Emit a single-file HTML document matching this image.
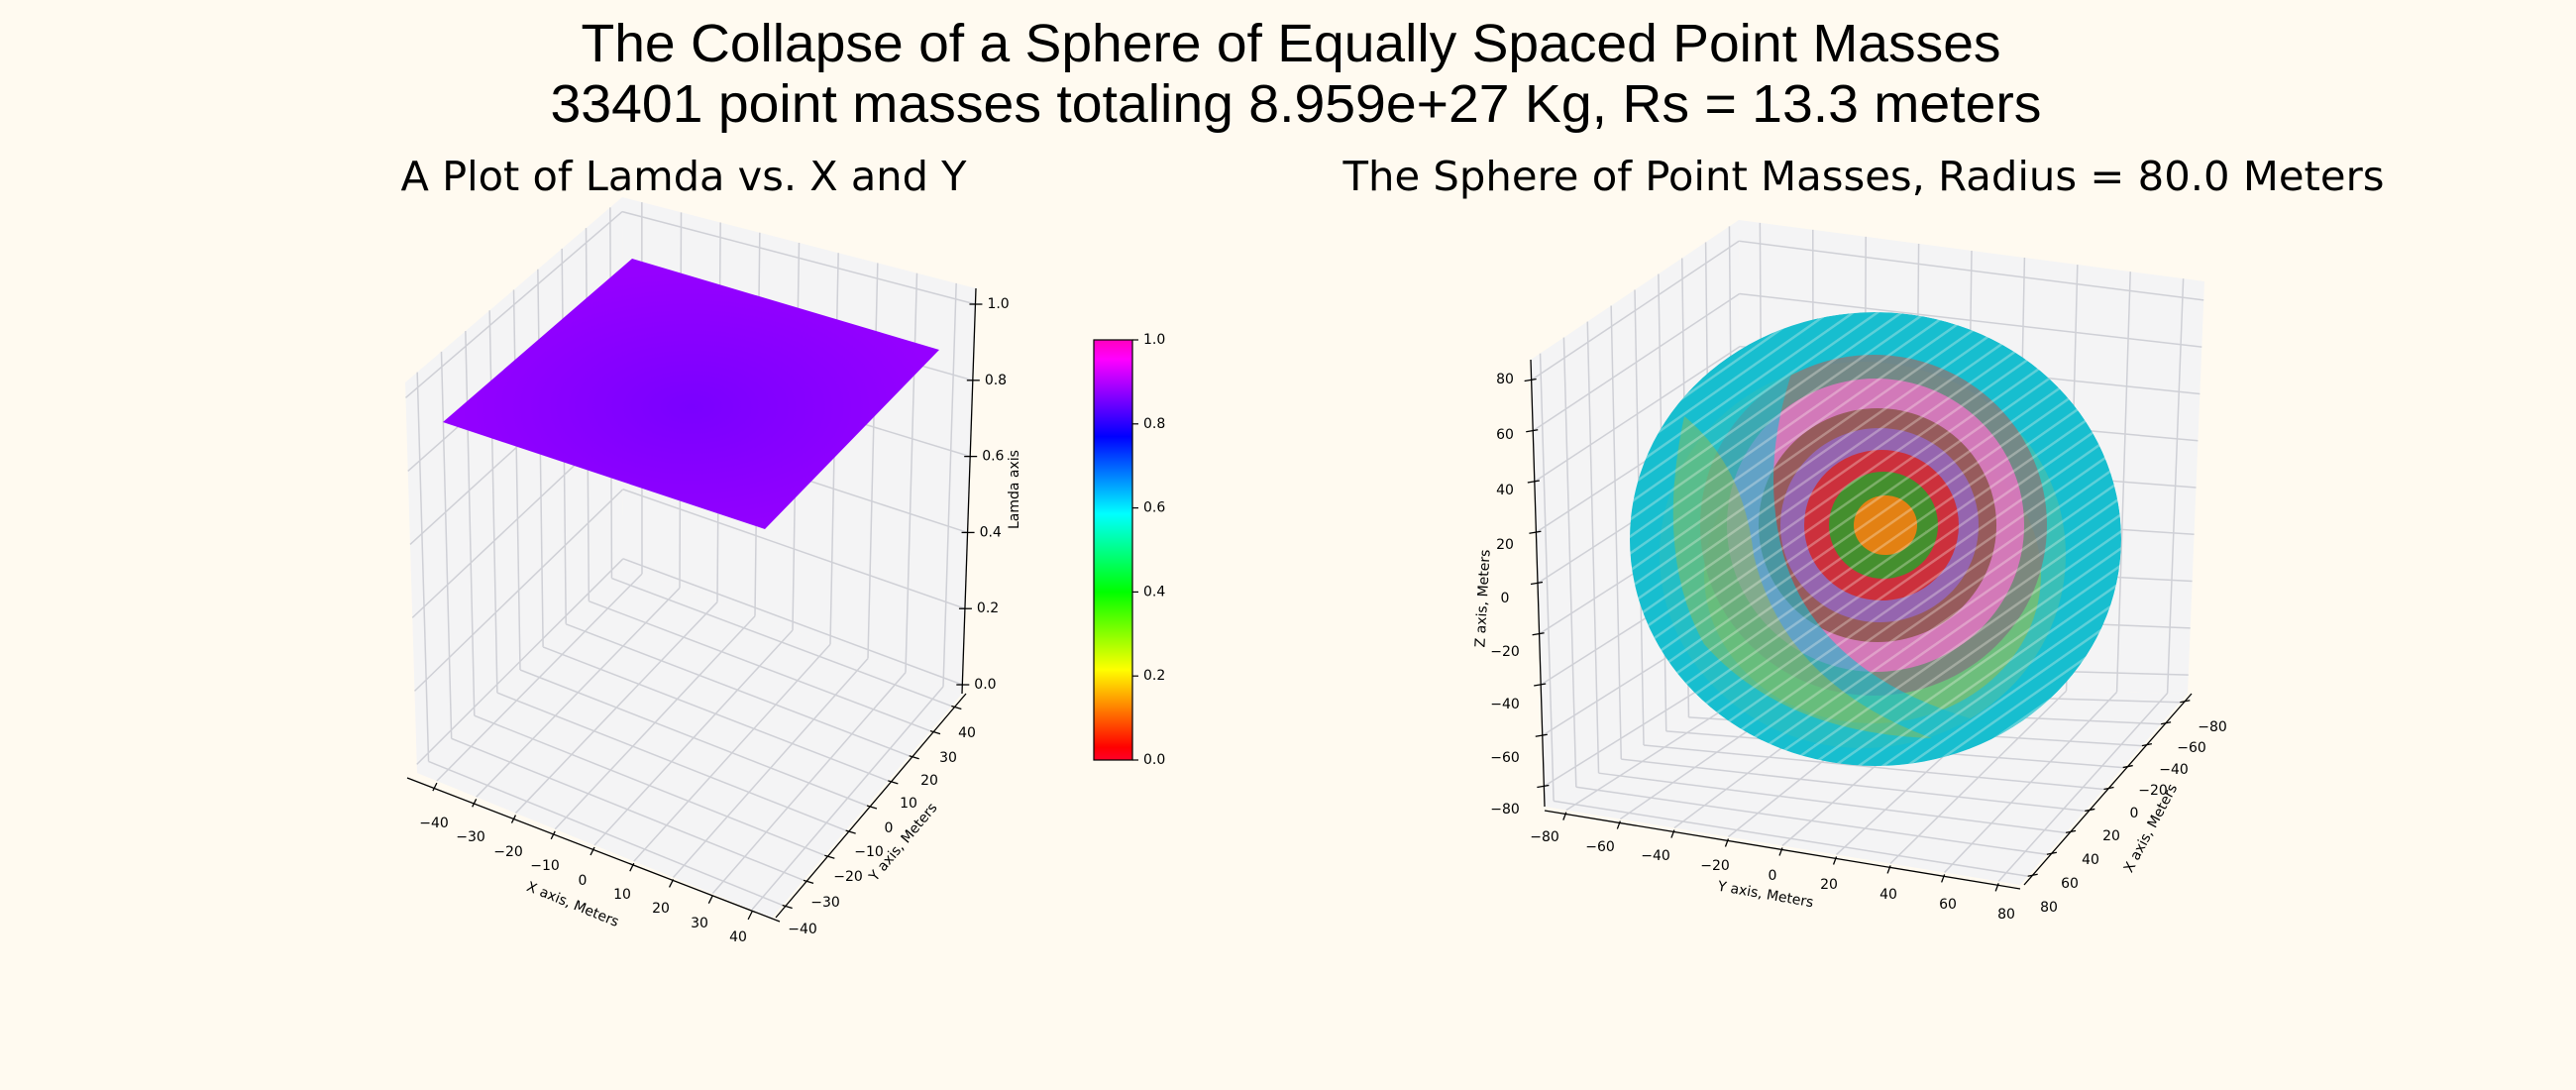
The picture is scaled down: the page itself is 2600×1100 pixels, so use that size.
<!DOCTYPE html>
<html><head><meta charset="utf-8"><style>
html,body{margin:0;padding:0;background:#fffaf0;}
svg{display:block;}
.t{font-family:"DejaVu Sans",sans-serif;fill:#000;}
</style></head><body>
<svg id="s" width="2600" height="1100" xmlns="http://www.w3.org/2000/svg">
<defs>
<linearGradient id="cb" x1="0" y1="1" x2="0" y2="0">
<stop offset="0" stop-color="#ff0029"/><stop offset="0.03" stop-color="#ff0000"/>
<stop offset="0.215" stop-color="#ffff00"/><stop offset="0.4" stop-color="#00ff00"/>
<stop offset="0.586" stop-color="#00ffff"/><stop offset="0.77" stop-color="#0000ff"/>
<stop offset="0.954" stop-color="#ff00ff"/><stop offset="1" stop-color="#ff00bf"/>
</linearGradient>
<radialGradient id="surf" cx="0.5" cy="0.55" r="0.5">
<stop offset="0" stop-color="#7a00ff"/><stop offset="1" stop-color="#9500ff"/>
</radialGradient>
<pattern id="stripes" width="14" height="14" patternUnits="userSpaceOnUse" patternTransform="rotate(-35)">
<rect width="14" height="2.5" fill="#fffaf0"/>
</pattern>
<clipPath id="sph"><ellipse cx="1893" cy="544" rx="248" ry="229"/></clipPath>
</defs>
<text x="1303" y="62" text-anchor="middle" font-family="Liberation Sans, sans-serif" font-size="54" textLength="1433" lengthAdjust="spacingAndGlyphs">The Collapse of a Sphere of Equally Spaced Point Masses</text>
<text x="1308" y="123" text-anchor="middle" font-family="Liberation Sans, sans-serif" font-size="54" textLength="1505" lengthAdjust="spacingAndGlyphs">33401 point masses totaling 8.959e+27 Kg, Rs = 13.3 meters</text>
<text class="t" x="690" y="192" text-anchor="middle" font-size="41" textLength="571" lengthAdjust="spacingAndGlyphs">A Plot of Lamda vs. X and Y</text>
<text class="t" x="1881" y="192" text-anchor="middle" font-size="41" textLength="1051" lengthAdjust="spacingAndGlyphs">The Sphere of Point Masses, Radius = 80.0 Meters</text>
<g id="g1"></g>
<g id="g2"></g>
</svg>
<script>
const NS="http://www.w3.org/2000/svg";
function el(p,n,a,txt){const e=document.createElementNS(NS,n);for(const k in a)e.setAttribute(k,a[k]);if(txt!==undefined)e.textContent=txt;p.appendChild(e);return e;}
function lp(a,b,t){return [a[0]+(b[0]-a[0])*t,a[1]+(b[1]-a[1])*t];}
function bil(p00,p10,p11,p01,u,v){return lp(lp(p00,p10,u),lp(p01,p11,u),v);}
function pane(g,q,us,vs){
 el(g,"polygon",{points:q.map(p=>p.join(",")).join(" "),fill:"#f4f4f5",stroke:"none"});
 for(const u of us){const a=bil(q[0],q[1],q[2],q[3],u,0),b=bil(q[0],q[1],q[2],q[3],u,1);el(g,"line",{x1:a[0],y1:a[1],x2:b[0],y2:b[1],stroke:"#cfd0d6","stroke-width":1.5});}
 for(const v of vs){const a=bil(q[0],q[1],q[2],q[3],0,v),b=bil(q[0],q[1],q[2],q[3],1,v);el(g,"line",{x1:a[0],y1:a[1],x2:b[0],y2:b[1],stroke:"#cfd0d6","stroke-width":1.5});}
}
function txt(g,x,y,s,fs,rot){const a={class:"t",x:x,y:y,"font-size":fs,"text-anchor":"middle","dominant-baseline":"central"};if(rot)a.transform=`rotate(${rot} ${x} ${y})`;el(g,"text",a,s);}
// ---- Left plot
(function(){
const g=document.getElementById("g1");
const Bt=[628,199],Bb=[629,572],Lt=[409,386],Lb=[421,780],Rt=[985,291],Rb=[971,700],F=[779,926];
const xs=[-40,-30,-20,-10,0,10,20,30,40].map(x=>(x+45)/90);
const zT=1.0417,zB=-0.0234,zs=[0,.2,.4,.6,.8,1].map(z=>(zT-z)/(zT-zB));
pane(g,[Lt,Bt,Bb,Lb],xs,zs);
pane(g,[Bt,Rt,Rb,Bb],xs,zs);
pane(g,[Lb,Bb,Rb,F],xs,xs);
el(g,"line",{x1:Rt[0],y1:Rt[1],x2:Rb[0],y2:Rb[1],stroke:"#000","stroke-width":1.3});
const zl=["1.0","0.8","0.6","0.4","0.2","0.0"];
zl.forEach((z,i)=>{const p=lp(Rt,Rb,zs[5-i]);el(g,"line",{x1:p[0]-6,y1:p[1],x2:p[0]+7,y2:p[1],stroke:"#000","stroke-width":1.3});el(g,"text",{class:"t",x:p[0]+12,y:p[1],"font-size":14,"dominant-baseline":"central"},z);});
txt(g,1024,494,"Lamda axis",14,-90);
el(g,"line",{x1:Lb[0]-10,y1:Lb[1]+5,x2:F[0]+8,y2:F[1]+4,stroke:"#000","stroke-width":1.3});
const xl=[[438,831],[475,845],[513,860],[550,874],[588,889],[628,903],[667,917],[706,932],[745,946]];
[-40,-30,-20,-10,0,10,20,30,40].forEach((v,i)=>{const p=lp(Lb,F,xs[i]);el(g,"line",{x1:p[0],y1:p[1]+2,x2:p[0]-4,y2:p[1]+10,stroke:"#000","stroke-width":1.3});txt(g,xl[i][0],xl[i][1],String(v).replace("-","\u2212"),14);});
txt(g,578,913,"X axis, Meters",14,22);
el(g,"line",{x1:F[0]+4,y1:F[1],x2:Rb[0]+4,y2:Rb[1],stroke:"#000","stroke-width":1.3});
const yl=[[806,938],[829,911],[852,885],[873,860],[893,836],[913,811],[934,788],[953,765],[972,740]];
[-40,-30,-20,-10,0,10,20,30,40].forEach((v,i)=>{const p=lp(F,Rb,xs[i]);el(g,"line",{x1:p[0],y1:p[1],x2:p[0]+10,y2:p[1]+3,stroke:"#000","stroke-width":1.3});txt(g,yl[i][0]+4,yl[i][1],String(v).replace("-","\u2212"),14);});
txt(g,912,850,"Y axis, Meters",14,-50);
el(g,"polygon",{points:"638,261 948,353 772,534 447,426",fill:"url(#surf)"});
el(g,"rect",{x:1104,y:343,width:39,height:424,fill:"url(#cb)",stroke:"#000","stroke-width":1.2});
[0,.2,.4,.6,.8,1].forEach(v=>{const y=767-v*424;el(g,"line",{x1:1143,y1:y,x2:1149,y2:y,stroke:"#000","stroke-width":1.2});el(g,"text",{class:"t",x:1154,y:y,"font-size":14,"dominant-baseline":"central"},v.toFixed(1));});
})();
// ---- Right plot
(function(){
const g=document.getElementById("g2");
const Lt=[1545,363],Bt=[1755,222],Bb=[1759,690],Lb=[1559,814],Rt=[2225,284],Rb=[2208,700],F=[2039,893];
const ts=[-80,-60,-40,-20,0,20,40,60,80];
const us=ts.map(x=>(x+88)/176);
pane(g,[Lt,Bt,Bb,Lb],us,us);
pane(g,[Bt,Rt,Rb,Bb],us,us);
pane(g,[Lb,Bb,Rb,F],us,us);
el(g,"line",{x1:Lt[0],y1:Lt[1],x2:Lb[0],y2:Lb[1],stroke:"#000","stroke-width":1.3});
const zy=[817,765,711,658,604,550,495,439,383];
ts.forEach((v,i)=>{const p=lp(Lb,Lt,us[i]);el(g,"line",{x1:p[0]-7,y1:p[1]+1,x2:p[0]+5,y2:p[1]-1,stroke:"#000","stroke-width":1.3});txt(g,1519,zy[i],String(v).replace("-","\u2212"),14);});
txt(g,1497,604,"Z axis, Meters",14,-87);
el(g,"line",{x1:Lb[0],y1:Lb[1]+4,x2:F[0],y2:F[1]+4,stroke:"#000","stroke-width":1.3});
const yl=[[1559,845],[1615,855],[1671,864],[1731,874],[1789,884],[1846,893],[1906,903],[1966,913],[2025,923]];
ts.forEach((v,i)=>{const p=lp(Lb,F,us[i]);el(g,"line",{x1:p[0],y1:p[1]+2,x2:p[0]-3,y2:p[1]+10,stroke:"#000","stroke-width":1.3});txt(g,yl[i][0],yl[i][1],String(v).replace("-","\u2212"),14);});
txt(g,1782,903,"Y axis, Meters",14,10);
el(g,"line",{x1:F[0]+4,y1:F[1],x2:Rb[0]+4,y2:Rb[1],stroke:"#000","stroke-width":1.3});
const xl=[[2064,916],[2085,892],[2106,868],[2127,844],[2150,821],[2169,798],[2190,777],[2208,755],[2229,734]];
ts.forEach((v,i)=>{const p=lp(F,Rb,us[i]);el(g,"line",{x1:p[0],y1:p[1],x2:p[0]+10,y2:p[1]-2,stroke:"#000","stroke-width":1.3});txt(g,xl[8-i][0]+4,xl[8-i][1],String(v).replace("-","\u2212"),14);});
txt(g,2171,836,"X axis, Meters",14,-62);
const s=el(g,"g",{"clip-path":"url(#sph)"});
el(s,"ellipse",{cx:1893,cy:544,rx:248,ry:229,fill:"#17becf"});
el(s,"ellipse",{cx:1880,cy:560,rx:205,ry:195,fill:"#5cc0a0","opacity":0.5});
el(s,"ellipse",{cx:1890,cy:580,rx:170,ry:150,fill:"#bcbd22","opacity":0.4});
const rings=[["#bcbd22",205,200],["#7f7f7f",175,172],["#e377c2",150,148],["#8c564b",120,118],["#9467bd",100,98],["#d62728",78,76],["#2ca02c",55,54],["#ff7f0e",32,30]];
rings.forEach((r,i)=>{const cx=1905+(8-i)*6, cy=530;el(s,"ellipse",{cx:cx-(8-i)*8,cy:cy,rx:r[1],ry:r[2],fill:r[0],opacity:i==0?0.0:0.85});});
el(s,"path",{d:"M1640,544 A253,229 0 0 1 1830,322 Q1770,450 1800,560 Q1840,700 2050,740 A253,229 0 0 1 1640,544Z",fill:"#17becf",opacity:0.6});
el(s,"path",{d:"M1700,420 Q1760,470 1770,560 Q1800,690 1950,745 Q1800,740 1720,650 Q1670,560 1700,420Z",fill:"#bcbd22",opacity:0.35});
el(s,"rect",{x:1640,y:310,width:510,height:470,fill:"url(#stripes)",opacity:0.3});
})();
</script>
</body></html>
